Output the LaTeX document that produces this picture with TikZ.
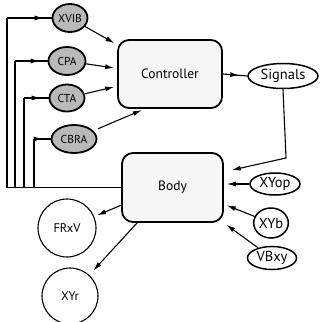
\documentclass[tikz,border=0pt]{standalone}
\usepackage{fontspec}
\setmainfont{PT Sans}
\usetikzlibrary{shapes.geometric, arrows.meta, decorations.markings}

\begin{document}
\begin{tikzpicture}[
    x=1pt, y=-1pt,
    block/.style={rectangle, draw=black, line width=1.8pt, fill=gray!7, rounded corners=11pt, inner sep=0pt, font=\fontsize{13.5}{15}\selectfont},
    param/.style={ellipse, draw=black, line width=1.8pt, fill=gray!55, inner sep=0pt, font=\fontsize{11.5}{13}\selectfont},
    port/.style={ellipse, draw=black, line width=1.5pt, fill=white, inner sep=0pt, font=\fontsize{14.5}{16}\selectfont},
    result/.style={circle, draw=black, line width=1.1pt, fill=white, inner sep=0pt, font=\fontsize{12.5}{14}\selectfont},
    line/.style={draw=black, line width=1.1pt},
    arr/.style={line, -{Latex[length=9pt,width=5pt]}, shorten >=3pt},
    tipmark/.style={postaction={decorate}, decoration={markings, mark=at position #1 with {\arrow{Latex[length=9pt,width=5pt]}}}},
    tipmark/.default=-8pt
]
    \useasboundingbox (0,0) rectangle (321,322);

    % --- Main blocks ---
    \node [block, minimum width=104pt, minimum height=68pt] (ctrl) at (170,74) {Controller};
    \node [block, minimum width=101pt, minimum height=69pt] (body) at (172.5,187.5) {Body};

    % --- Controller parameters ---
    \node [param, minimum width=35pt, minimum height=28pt] (xvib) at (70,18) {XVIB};
    \node [param, minimum width=37pt, minimum height=28pt] (cpa) at (67,61) {CPA};
    \node [param, minimum width=35pt, minimum height=27pt] (cta) at (67,98) {CTA};
    \node [param, minimum width=45pt, minimum height=28pt] (cbra) at (74,139) {CBRA};

    % --- Signals and body inputs ---
    \node [port, minimum width=70pt, minimum height=25pt] (signals) at (283,76) {Signals};
    \node [port, minimum width=50pt, minimum height=22pt] (xyop) at (275,184) {XYop};
    \node [port, minimum width=33pt, minimum height=30pt] (xyb) at (271,223) {XYb};
    \node [port, minimum width=49pt, minimum height=23pt] (vbxy) at (272,258) {VBxy};

    % --- Body outputs ---
    \node [result, minimum size=58pt] (frxv) at (67,228) {FRxV};
    \node [result, minimum size=56pt] (xyr) at (70,296) {XYr};

    % --- Feedback from body to parameters ---
    \coordinate (k1) at (7,18);
    \coordinate (k2) at (15,61);
    \coordinate (k3) at (24,98);
    \coordinate (k4) at (34,139);
    \foreach \k/\p in {k1/xvib, k2/cpa, k3/cta, k4/cbra} {
        \path [line] (body.west) -| (\k);
        \path [line, tipmark] (\k) -- (\p.west);
    }

    % --- Parameters into controller ---
    \path [arr] (xvib) -- (ctrl.151);
    \path [arr] (cpa) -- (ctrl.174);
    \path [arr] (cta) -- (ctrl.193);
    \path [arr, shorten <=5pt] (cbra) -- (ctrl.234);

    % --- Controller to body via signals ---
    \path [line, tipmark] (ctrl.east) -- (signals.west);
    \coordinate (sbend) at (286,158);
    \path [arr, shorten >=8pt] (signals.south) -- (sbend) -- (body.17);

    % --- Inputs into body ---
    \path [arr] (xyop) -- (xyop -| body.east);
    \path [arr] (xyb) -- (body.-18);
    \path [arr] (vbxy) -- (body.south east);

    % --- Outputs of body ---
    \path [arr] (body.199) -- (frxv);
    \path [arr, shorten >=6pt] (body.225) -- (xyr);

\end{tikzpicture}
\end{document}
